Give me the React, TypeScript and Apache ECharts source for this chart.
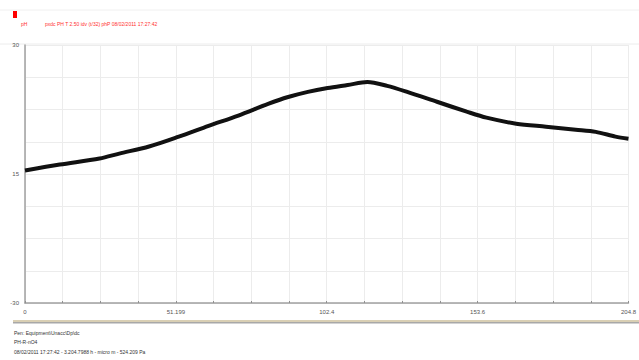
import React, { useEffect, useRef } from "react";
import * as echarts from "echarts";

const xValues = [0, 11.8, 25.3, 32.0, 42.1, 52.2, 62.3, 72.4, 82.5, 89.3, 96.0, 102.7, 109.5, 116.2, 122.9, 129.7, 139.8, 149.9, 156.6, 166.7, 176.8, 186.9, 193.7, 200.4, 204.8];
const yValues = [0.8, 2.2, 3.6, 4.75, 6.4, 8.7, 11.2, 13.6, 16.3, 17.9, 19.1, 20.0, 20.7, 21.4, 20.5, 19.1, 16.8, 14.5, 13.1, 11.7, 11.0, 10.3, 9.8, 8.7, 8.2];
const xTickLabels: Record<string, string> = { "0": "0", "51.2": "51.199", "102.4": "102.4", "153.6": "153.6", "204.8": "204.8" };
const yTickLabels: Record<string, string> = { "30": "30", "0": "15", "-30": "-30" };
const headerTexts = ["pH", "pxdc PH T 2.50 idv (t/32) phP 08/02/2011 17:27:42"];
const footerTexts = ["Pen: Equipment\\Unacc\\Dp\\dc", "PH-R-nO4", "08/02/2011 17:27:42 - 3.204.7988 h - micro m - 524.209 Pa"];

export default function App() {
  const ref = useRef<HTMLDivElement>(null);
  useEffect(() => {
    if (!ref.current) return;
    const chart = echarts.init(ref.current, null, { renderer: "svg" });
    const data = xValues.map((x, i) => [x, yValues[i]]);
    chart.setOption({
      animation: false,
      backgroundColor: "#ffffff",
      grid: { left: 25, right: 3, top: 45, bottom: 57, containLabel: false },
      xAxis: {
        type: "value",
        min: 0,
        max: 204.8,
        interval: 12.8,
        axisLine: { show: true, onZero: false, lineStyle: { color: "#a0a0a0", width: 1.5 } },
        axisTick: { show: true, length: 2, inside: true, lineStyle: { color: "#909090" } },
        splitLine: { show: true, lineStyle: { color: "#ececec", width: 1 } },
        axisLabel: {
          fontSize: 6,
          color: "#555",
          margin: 6,
          showMaxLabel: true,
          formatter: (v: number) => {
            const k = String(Math.round(v * 10) / 10);
            return xTickLabels[k] ?? "";
          },
        },
      },
      yAxis: {
        type: "value",
        min: -30,
        max: 30,
        interval: 7.5,
        axisLine: { show: true, onZero: false, lineStyle: { color: "#a0a0a0", width: 1.5 } },
        axisTick: { show: false },
        splitLine: { show: true, lineStyle: { color: "#ececec", width: 1 } },
        axisLabel: {
          fontSize: 6,
          color: "#555",
          margin: 6,
          formatter: (v: number) => yTickLabels[String(v)] ?? "",
        },
      },
      series: [
        {
          type: "line",
          data,
          smooth: 0.3,
          showSymbol: false,
          lineStyle: { color: "#111111", width: 4 },
        },
      ],
      graphic: [
        { type: "line", shape: { x1: 0, y1: 10, x2: 639, y2: 10 }, style: { stroke: "#f0f0f0", lineWidth: 1 } },
        { type: "line", shape: { x1: 0, y1: 44, x2: 639, y2: 44 }, style: { stroke: "#ececec", lineWidth: 1 } },
        { type: "rect", shape: { x: 13, y: 11, width: 4, height: 7 }, style: { fill: "#ff0000" } },
        { type: "text", x: 21, y: 21, style: { text: headerTexts[0], fontSize: 5, fill: "#ff3030", fontFamily: "Liberation Sans" } },
        { type: "text", x: 45, y: 21, style: { text: headerTexts[1], fontSize: 5, fill: "#ff3030", fontFamily: "Liberation Sans" } },
        { type: "rect", shape: { x: 13, y: 320, width: 626, height: 2 }, style: { fill: "#d9cfb4" } },
        { type: "rect", shape: { x: 13, y: 322, width: 626, height: 1.5 }, style: { fill: "#a8a8a8" } },
        { type: "text", x: 14, y: 330, style: { text: footerTexts[0], fontSize: 5, fill: "#333", fontFamily: "Liberation Sans" } },
        { type: "text", x: 14, y: 339, style: { text: footerTexts[1], fontSize: 5, fill: "#333", fontFamily: "Liberation Sans" } },
        { type: "text", x: 14, y: 349, style: { text: footerTexts[2], fontSize: 5, fill: "#333", fontFamily: "Liberation Sans" } },
      ],
    });
    return () => chart.dispose();
  }, []);
  return <div ref={ref} style={{ position: "fixed", left: 0, top: 0, width: 639, height: 360 }} />;
}
